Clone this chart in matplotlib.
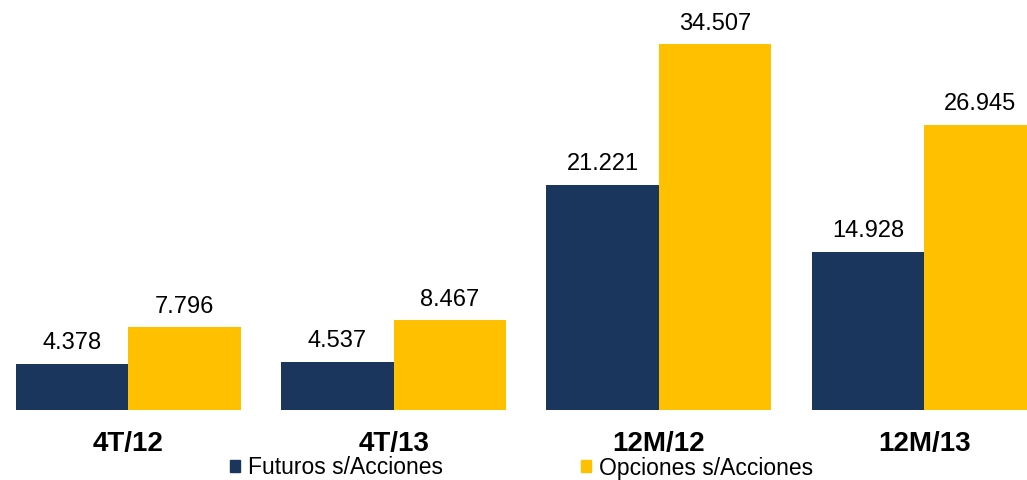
import numpy as np
import matplotlib.pyplot as plt
from matplotlib.patches import Patch

plt.rcParams['font.family'] = ['Liberation Sans', 'DejaVu Sans']

# volúmenes por periodo (miles de contratos)
periodos = ['4T/12', '4T/13', '12M/12', '12M/13']
futuros = [4.378, 4.537, 21.221, 14.928]
opciones = [7.796, 8.467, 34.507, 26.945]
etiquetas_fut = ['4.378', '4.537', '21.221', '14.928']
etiquetas_opc = ['7.796', '8.467', '34.507', '26.945']

azul = '#1B365D'
amarillo = '#FFC000'

fig = plt.figure(figsize=(10.27, 4.8), dpi=100)
ax = fig.add_axes([0, 70 / 480, 1, 410 / 480])

x = np.arange(len(periodos))
w = 0.424
b1 = ax.bar(x - w / 2, futuros, w, color=azul, label='Futuros s/Acciones')
b2 = ax.bar(x + w / 2, opciones, w, color=amarillo, label='Opciones s/Acciones')

for bars, labs in [(b1, etiquetas_fut), (b2, etiquetas_opc)]:
    for r, lab in zip(bars, labs):
        ax.annotate(lab, (r.get_x() + r.get_width() / 2, r.get_height()),
                    xytext=(0, 7), textcoords='offset points',
                    ha='center', va='bottom', fontsize=17)

ax.set_xlim(-0.4845, 3.388)
ax.set_ylim(0, 38.7)
ax.set_xticks(x)
ax.set_xticklabels(periodos, fontsize=20, fontweight='bold')
ax.tick_params(axis='x', length=0, pad=15)
ax.set_yticks([])
for s in ax.spines.values():
    s.set_visible(False)

handles = [Patch(color=azul), Patch(color=amarillo)]
fig.legend(handles, ['Futuros s/Acciones', 'Opciones s/Acciones'],
           loc='center', bbox_to_anchor=(0.508, 1 - 468 / 480), ncol=2,
           frameon=False, fontsize=16.5, handlelength=0.45, handleheight=0.45,
           handletextpad=0.35, columnspacing=6.0, borderpad=0)

fig.savefig('out.png', dpi=100)
